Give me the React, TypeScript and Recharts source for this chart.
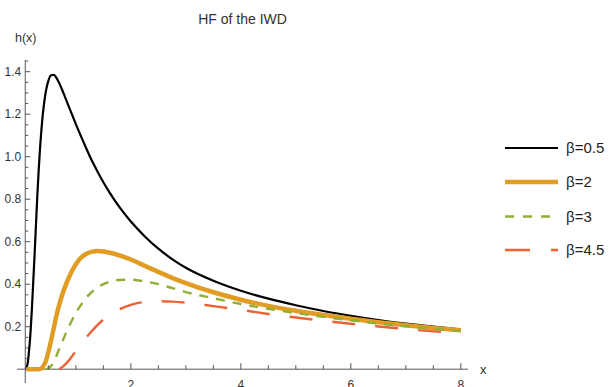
import React from 'react';
import { LineChart, Line, XAxis, YAxis, ReferenceLine } from 'recharts';

// ---- data ----
const xValues = [0.1, 0.125, 0.15, 0.175, 0.2, 0.225, 0.25, 0.275, 0.3, 0.325, 0.35, 0.375, 0.4, 0.425, 0.45, 0.475, 0.5, 0.55, 0.6, 0.65, 0.7, 0.75, 0.8, 0.9, 1.0, 1.1, 1.2, 1.3, 1.4, 1.5, 1.6, 1.8, 2.0, 2.25, 2.5, 2.75, 3.0, 3.5, 4.0, 4.5, 5.0, 5.5, 6.0, 6.5, 7.0, 7.5, 8.0];

const beta05 = [0.003, 0.03, 0.09, 0.17, 0.28, 0.41, 0.54, 0.68, 0.82, 0.94, 1.045, 1.13, 1.2, 1.255, 1.3, 1.333, 1.357, 1.383, 1.385, 1.37, 1.345, 1.315, 1.283, 1.218, 1.153, 1.092, 1.033, 0.977, 0.927, 0.88, 0.837, 0.76, 0.695, 0.626, 0.567, 0.518, 0.477, 0.416, 0.369, 0.332, 0.301, 0.274, 0.251, 0.231, 0.214, 0.2, 0.187];

const beta2 = [0, 0, 0, 0, 0, 0, 0, 0, 0, 0, 0.001, 0.004, 0.012, 0.022, 0.035, 0.055, 0.08, 0.135, 0.195, 0.255, 0.305, 0.348, 0.385, 0.447, 0.494, 0.526, 0.544, 0.553, 0.556, 0.554, 0.549, 0.535, 0.516, 0.487, 0.458, 0.43, 0.405, 0.362, 0.327, 0.298, 0.275, 0.255, 0.237, 0.221, 0.207, 0.194, 0.183];

const beta3 = [null, null, null, null, null, null, null, null, null, null, null, null, null, null, 0, 0.001, 0.004, 0.015, 0.035, 0.065, 0.097, 0.127, 0.158, 0.215, 0.265, 0.305, 0.34, 0.365, 0.385, 0.4, 0.41, 0.42, 0.421, 0.413, 0.4, 0.382, 0.363, 0.334, 0.307, 0.284, 0.264, 0.246, 0.23, 0.215, 0.202, 0.19, 0.179];

const beta45 = [null, null, null, null, null, null, null, null, null, null, null, null, null, null, null, null, null, null, null, null, 0, 0.01, 0.02, 0.05, 0.085, 0.12, 0.152, 0.182, 0.21, 0.233, 0.252, 0.283, 0.303, 0.316, 0.32, 0.318, 0.313, 0.297, 0.279, 0.26, 0.243, 0.228, 0.214, 0.201, 0.189, 0.178, 0.169];

const seriesNames = ['β=0.5', 'β=2', 'β=3', 'β=4.5'];

const xTicks = [0.5, 1, 1.5, 2, 2.5, 3, 3.5, 4, 4.5, 5, 5.5, 6, 6.5, 7, 7.5, 8];
const xMajor = [2, 4, 6, 8];
const yTicks = [0.05, 0.1, 0.15, 0.2, 0.25, 0.3, 0.35, 0.4, 0.45, 0.5, 0.55, 0.6, 0.65, 0.7, 0.75, 0.8, 0.85, 0.9, 0.95, 1.0, 1.05, 1.1, 1.15, 1.2, 1.25, 1.3, 1.35, 1.4, 1.45];
const yMajor = [0.2, 0.4, 0.6, 0.8, 1.0, 1.2, 1.4];

const title = 'HF of the IWD';
const yLabel = 'h(x)';
const xLabel = 'x';

// ---- layout ----
const W = 611;
const H = 387;
const X_DOMAIN: [number, number] = [-0.07, 8.13];
const Y_DOMAIN: [number, number] = [-0.065, 1.455];
const MARGIN = { top: 60, right: 143, bottom: 0, left: 0 };
const Y_AXIS_W = 17;
const X_AXIS_H = 4;
const PLOT_W = W - MARGIN.right - MARGIN.left - Y_AXIS_W;
const PLOT_H = H - MARGIN.top - MARGIN.bottom - X_AXIS_H;
const X_CROSS = 0.08;
const Y_CROSS = 0;
const DX_AXIS = ((X_CROSS - X_DOMAIN[0]) / (X_DOMAIN[1] - X_DOMAIN[0])) * PLOT_W;
const DY_AXIS = ((Y_CROSS - Y_DOMAIN[0]) / (Y_DOMAIN[1] - Y_DOMAIN[0])) * PLOT_H;

const AXIS_COLOR = '#555';
const TEXT_COLOR = '#333';
const FONT = '"Liberation Sans", Arial, sans-serif';

const COLORS = ['#000000', '#E19C24', '#8FB032', '#EB6235'];
const WIDTHS = [2.2, 4.5, 2.4, 2.4];
const DASHES = [undefined, undefined, '9 8', '23 20'];

const data = xValues.map((x, i) => ({
  x,
  b05: beta05[i],
  b2: beta2[i],
  b3: beta3[i],
  b45: beta45[i],
}));

const near = (arr: number[], v: number) => arr.some((a) => Math.abs(a - v) < 1e-6);

const YTick = (props: any) => {
  const { x, y, payload } = props;
  const v = payload.value;
  const ax = x + DX_AXIS;
  const major = near(yMajor, v);
  return (
    <g>
      <line x1={ax} x2={ax + (major ? 5 : 3)} y1={y} y2={y} stroke={AXIS_COLOR} strokeWidth={1} />
      {major && (
        <text x={ax - 4} y={y} dy="0.35em" textAnchor="end" fontSize={12} fill={TEXT_COLOR} fontFamily={FONT}>
          {v.toFixed(1)}
        </text>
      )}
    </g>
  );
};

const XTick = (props: any) => {
  const { x, y, payload } = props;
  const v = payload.value;
  const ay = y - DY_AXIS;
  const major = near(xMajor, v);
  return (
    <g>
      <line x1={x} x2={x} y1={ay} y2={ay - (major ? 6 : 4)} stroke={AXIS_COLOR} strokeWidth={1} />
      {major && (
        <text x={x} y={ay + 19.6} textAnchor="middle" fontSize={12} fill={TEXT_COLOR} fontFamily={FONT}>
          {String(v)}
        </text>
      )}
    </g>
  );
};

const legendRows = [148, 182, 216.5, 250];

export default function App() {
  const keys = ['b05', 'b2', 'b3', 'b45'];
  return (
    <div style={{ position: 'absolute', left: 0, top: 0, width: W, height: H, background: '#fff' }}>
      <LineChart width={W} height={H} data={data} margin={MARGIN}>
        <XAxis
          dataKey="x"
          type="number"
          domain={X_DOMAIN}
          allowDataOverflow
          ticks={xTicks}
          interval={0}
          axisLine={false}
          tickLine={false}
          tickSize={0}
          tickMargin={0}
          height={X_AXIS_H}
          tick={<XTick />}
        />
        <YAxis
          type="number"
          domain={Y_DOMAIN}
          allowDataOverflow
          ticks={yTicks}
          interval={0}
          axisLine={false}
          tickLine={false}
          tickSize={0}
          tickMargin={0}
          width={Y_AXIS_W}
          tick={<YTick />}
        />
        <ReferenceLine x={X_CROSS} stroke={AXIS_COLOR} strokeWidth={1} />
        <ReferenceLine y={Y_CROSS} stroke={AXIS_COLOR} strokeWidth={1} />
        {keys.map((k, i) => (
          <Line
            key={k}
            dataKey={k}
            name={seriesNames[i]}
            type="monotone"
            stroke={COLORS[i]}
            strokeWidth={WIDTHS[i]}
            strokeDasharray={DASHES[i]}
            dot={false}
            activeDot={false}
            connectNulls={false}
            isAnimationActive={false}
          />
        ))}
      </LineChart>
      <svg
        width={W}
        height={H}
        style={{ position: 'absolute', left: 0, top: 0, pointerEvents: 'none' }}
      >
        <text x={242.5} y={24} textAnchor="middle" fontSize={14} fill={TEXT_COLOR} fontFamily={FONT}>
          {title}
        </text>
        <text x={15} y={42} fontSize={12.5} fill={TEXT_COLOR} fontFamily={FONT}>
          {yLabel}
        </text>
        <text x={480} y={374} fontSize={13} fill={TEXT_COLOR} fontFamily={FONT}>
          {xLabel}
        </text>
        {seriesNames.map((n, i) => (
          <g key={n}>
            <line
              x1={505}
              x2={558}
              y1={legendRows[i]}
              y2={legendRows[i]}
              stroke={COLORS[i]}
              strokeWidth={WIDTHS[i]}
              strokeDasharray={i === 2 ? '9 9' : i === 3 ? '25 21' : undefined}
            />
            <text x={566} y={legendRows[i]} dy="0.36em" fontSize={15} fill="#222" fontFamily={FONT}>
              {n}
            </text>
          </g>
        ))}
      </svg>
    </div>
  );
}
